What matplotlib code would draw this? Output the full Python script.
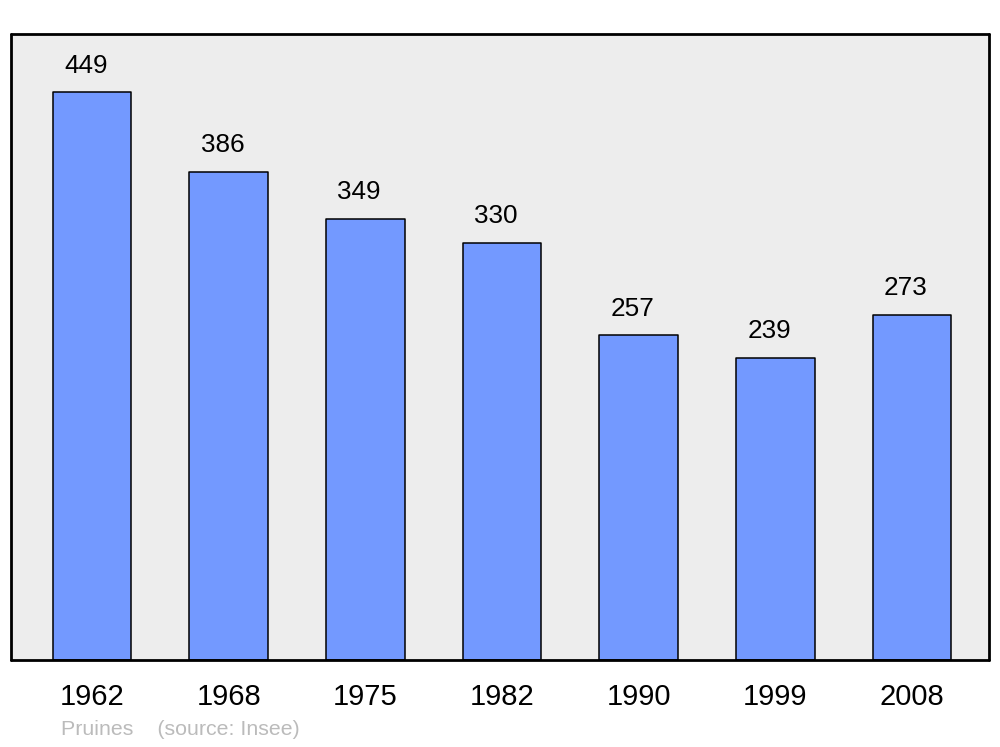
import matplotlib.pyplot as plt

plt.rcParams['font.family'] = ['Liberation Sans', 'DejaVu Sans']

years = ['1962', '1968', '1975', '1982', '1990', '1999', '2008']
population = [449, 386, 349, 330, 257, 239, 273]

fig = plt.figure(figsize=(10, 7.47), dpi=100, facecolor='white')
ax = fig.add_axes([0.011, 0.1165, 0.978, 0.838])
ax.set_facecolor('#ededed')

x = range(len(years))
bars = ax.bar(x, population, width=0.575, color='#7399ff', edgecolor='black',
              linewidth=1.1, joinstyle='round', zorder=2)

for xi, v in zip(x, population):
    ax.annotate(str(v), (xi, v), xytext=(-4.5, 19), textcoords='offset points',
                ha='center', va='center', fontsize=18.8)

ax.set_xlim(-0.593, 6.563)
ax.set_ylim(0, 495)
ax.set_xticks(list(x))
ax.set_xticklabels(years, fontsize=21)
ax.tick_params(axis='x', length=0, pad=16.5)
ax.set_yticks([])

for s in ax.spines.values():
    s.set_linewidth(2)
    s.set_capstyle('round')
    s.set_joinstyle('round')

fig.text(0.061, 0.023, 'Pruines    (source: Insee)', fontsize=15.4,
         color='#bbbbbb', ha='left', va='center')

fig.savefig('out.png', dpi=100)
